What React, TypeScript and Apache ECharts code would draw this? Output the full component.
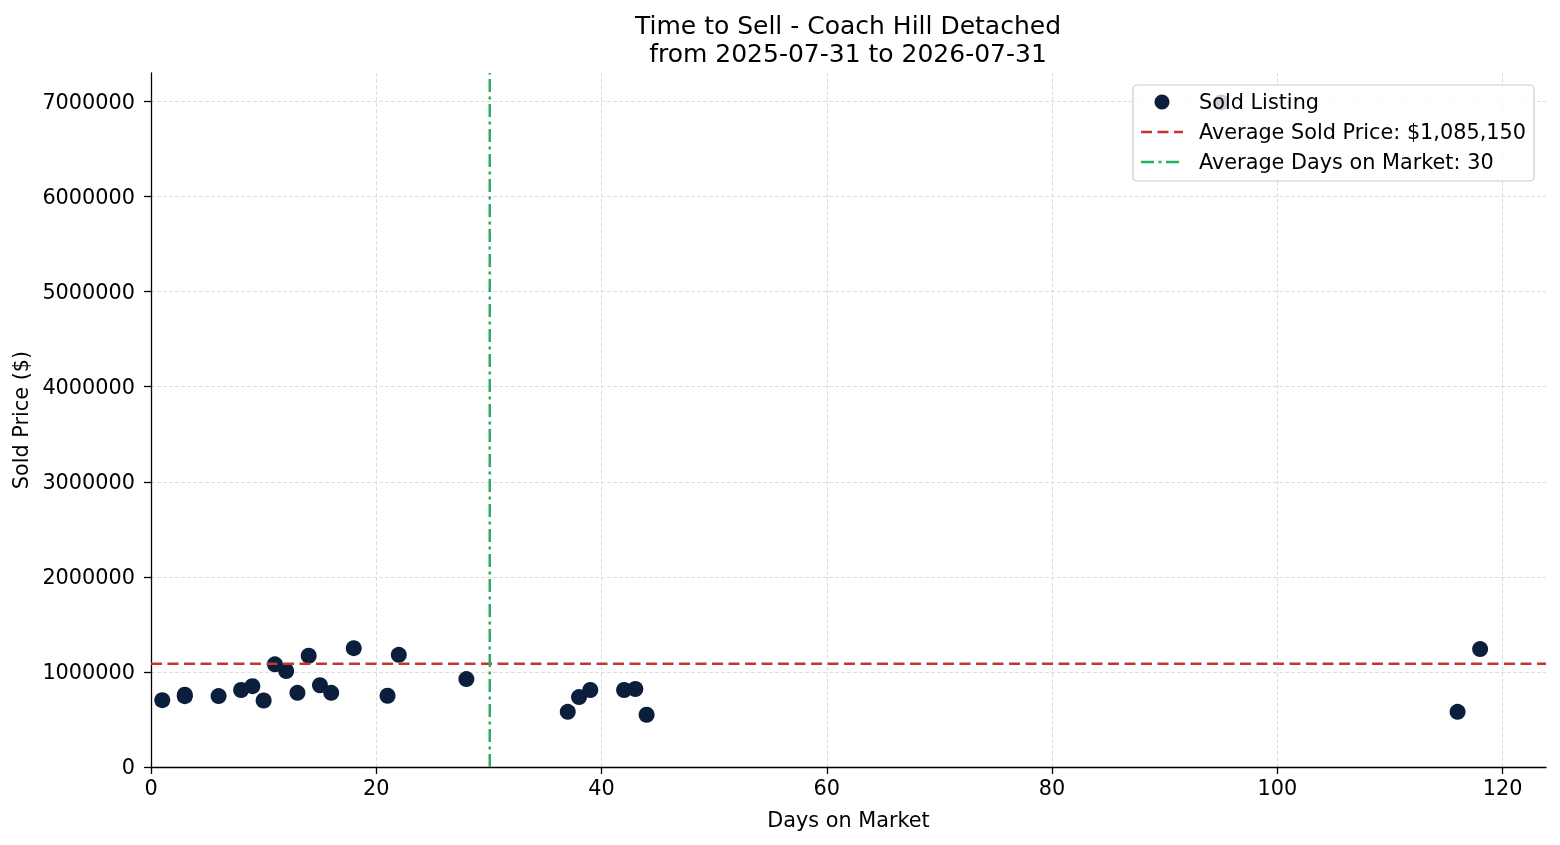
import { useEffect, useRef } from "react";
import * as echarts from "echarts";

const titleLines = ["Time to Sell - Coach Hill Detached", "from 2025-07-31 to 2026-07-31"];

// days on market / sold price for each sold listing
const daysOnMarket = [1, 3, 3, 6, 8, 9, 10, 11, 12, 13, 14, 15, 16, 18, 21, 22, 28, 37, 38, 39, 42, 43, 44, 95, 116, 118];
const soldPrices = [
  702900, 760000, 745000, 746000, 810000, 850000, 700000, 1080000, 1010000, 780000,
  1170000, 860000, 780000, 1250000, 750000, 1180000, 925000, 580000, 735000, 810000,
  810000, 820000, 550000, 6990000, 580000, 1240000,
];

const xTicks = [0, 20, 40, 60, 80, 100, 120];
const yTicks = [0, 1000000, 2000000, 3000000, 4000000, 5000000, 6000000, 7000000];

const X_MAX = 123.85;
const Y_MAX = 7300000;

const FONT = "DejaVu Sans";
const NAVY = "#0b1f3d";
const RED = "#c0392b";
const GREEN = "#27ae60";
const RED_DASH = [11, 5.5];
const GREEN_DASH = [13, 4.5, 3, 4.5];

export default function App() {
  const ref = useRef<HTMLDivElement | null>(null);

  useEffect(() => {
    if (!ref.current) return;
    const chart = echarts.init(ref.current, undefined, { renderer: "svg" });

    const points = daysOnMarket.map((d, i) => [d, soldPrices[i]]);
    const avgPrice = soldPrices.reduce((a, b) => a + b, 0) / soldPrices.length;
    const avgDays = daysOnMarket.reduce((a, b) => a + b, 0) / daysOnMarket.length;
    const priceLabel = `Average Sold Price: $${Math.round(avgPrice).toLocaleString("en-US")}`;
    const daysLabel = `Average Days on Market: ${Math.round(avgDays)}`;

    // matplotlib-like legend box, drawn by hand
    const legend = [
      {
        type: "rect",
        shape: { x: 1133, y: 85, width: 401, height: 96, r: 4 },
        style: { fill: "rgba(255,255,255,0.8)", stroke: "#cccccc", lineWidth: 1.2 },
        z: 100,
      },
      { type: "circle", shape: { cx: 1162, cy: 102, r: 7.5 }, style: { fill: NAVY }, z: 101 },
      {
        type: "line",
        shape: { x1: 1141, y1: 132, x2: 1183, y2: 132 },
        style: { stroke: RED, lineWidth: 2.5, lineDash: RED_DASH },
        z: 101,
      },
      {
        type: "line",
        shape: { x1: 1141, y1: 162, x2: 1183, y2: 162 },
        style: { stroke: GREEN, lineWidth: 2.5, lineDash: GREEN_DASH },
        z: 101,
      },
      ...["Sold Listing", priceLabel, daysLabel].map((t, i) => ({
        type: "text",
        x: 1199,
        y: 102 + i * 30,
        style: { text: t, font: `20.8px '${FONT}'`, fill: "#000", textVerticalAlign: "middle" },
        z: 101,
      })),
    ];

    chart.setOption({
      animation: false,
      textStyle: { fontFamily: FONT },
      title: {
        text: titleLines.join("\n"),
        left: 843,
        textAlign: "center",
        top: 6,
        textStyle: { fontSize: 25, fontWeight: "normal", color: "#000", lineHeight: 28, fontFamily: FONT },
      },
      grid: { left: 151, right: 14, top: 73, bottom: 78, outerBoundsMode: "none", containLabel: false },
      xAxis: {
        type: "value",
        min: 0,
        max: X_MAX,
        name: "Days on Market",
        nameLocation: "middle",
        nameGap: 42,
        nameTextStyle: { fontSize: 20.8, color: "#000", fontFamily: FONT },
        axisLine: { lineStyle: { color: "#000", width: 1.3 } },
        axisTick: { show: true, length: 7, lineStyle: { color: "#000", width: 1.3 }, customValues: xTicks },
        axisLabel: { fontSize: 20.8, color: "#000", margin: 10, customValues: xTicks, fontFamily: FONT },
        splitLine: { show: true, lineStyle: { color: "#d6d6d6", width: 0.8, type: [4, 2] } },
      },
      yAxis: {
        type: "value",
        min: 0,
        max: Y_MAX,
        name: "Sold Price ($)",
        nameLocation: "middle",
        nameGap: 118,
        nameRotate: 90,
        nameTextStyle: { fontSize: 20.8, color: "#000", fontFamily: FONT },
        axisLine: { show: true, lineStyle: { color: "#000", width: 1.3 } },
        axisTick: { show: true, length: 7, lineStyle: { color: "#000", width: 1.3 }, customValues: yTicks },
        axisLabel: {
          fontSize: 20.8,
          color: "#000",
          margin: 16,
          customValues: yTicks,
          fontFamily: FONT,
          formatter: (v: number) => String(v),
        },
        splitLine: { show: true, lineStyle: { color: "#d6d6d6", width: 0.8, type: [4, 2] } },
      },
      series: [
        {
          name: "Sold Listing",
          type: "scatter",
          data: points,
          symbolSize: 16,
          itemStyle: { color: NAVY, opacity: 1 },
          z: 2,
        },
        {
          name: priceLabel,
          type: "line",
          data: [[0, avgPrice], [X_MAX, avgPrice]],
          symbol: "none",
          lineStyle: { color: RED, width: 2.5, type: RED_DASH },
          z: 3,
        },
        {
          name: daysLabel,
          type: "line",
          data: [[avgDays, 0], [avgDays, Y_MAX]],
          symbol: "none",
          lineStyle: { color: GREEN, width: 2.5, type: GREEN_DASH },
          z: 3,
        },
      ],
      graphic: legend,
    });

    return () => chart.dispose();
  }, []);

  return <div ref={ref} style={{ position: "fixed", left: 0, top: 0, width: 1560, height: 845 }} />;
}
